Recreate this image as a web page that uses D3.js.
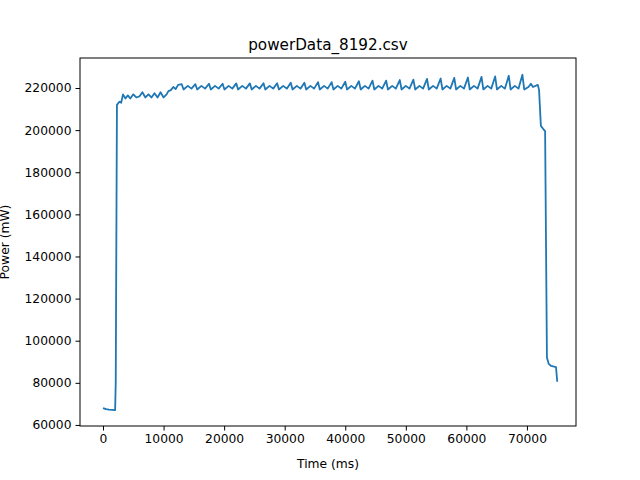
<!DOCTYPE html>
<html><head><meta charset="utf-8">
<script src="https://cdn.jsdelivr.net/npm/d3@7"></script>
<style>body{margin:0;background:#fff}text{font-family:"DejaVu Sans",sans-serif}</style>
</head><body>
<svg id="chart" width="640" height="480"></svg>
<script>
// time (ms) and power (mW)
const timeMs = [0,500,1000,1500,2000,2100,2300,2700,3000,3300,3700,4100,4500,5000,5500,6000,6500,7000,7500,8000,8500,9000,9500,10000,10500,10800,11200,11600,12000,12400,
13000,13300,14000,14600, 15250,15550,16250,16850, 17500,17800,18500,19100, 19750,20050,20750,21350,
22000,22300,23000,23600, 24250,24550,25250,25850, 26500,26800,27500,28100, 28750,29050,29750,30350,
31000,31300,32000,32600, 33250,33550,34250,34850, 35500,35800,36500,37100, 37750,38050,38750,39350,
40000,40300,41000,41600, 42250,42550,43250,43850, 44500,44800,45500,46100, 46750,47050,47750,48350,
49000,49300,50000,50600, 51250,51550,52250,52850, 53500,53800,54500,55100, 55750,56050,56750,57350,
58000,58300,59000,59600, 60250,60550,61250,61850, 62500,62800,63500,64100, 64750,65050,65750,66350,
67000,67300,68000,68600, 69250,69550,70250,70650,
71000,71800,72000,72300,72700,73000,73300,73600,74000,74800,75000];
const powerMw = [68000,67500,67300,67200,67000,80000,212000,213500,213000,217000,215000,216500,215000,217000,215500,216000,218000,215500,217000,215500,217500,215500,218000,215500,217000,218500,219000,220500,219500,221500,
221800,219300,221000,219700, 221800,219300,221000,219700, 222000,219300,221000,219700, 222000,219300,221000,219700,
222200,219300,221000,219700, 222200,219300,221000,219700, 222300,219300,221000,219700, 222300,219300,221000,219700,
222500,219300,221000,219700, 222500,219300,221000,219700, 222800,219300,221000,219700, 222800,219300,221000,219700,
223000,219300,221000,219700, 223200,219300,221000,219700, 223500,219300,221000,219700, 223500,219300,221000,219700,
223800,219300,221000,219700, 224000,219300,221000,219700, 224300,219300,221000,219700, 224500,219300,221000,219700,
224800,219300,221000,219700, 225000,219300,221000,219700, 225300,219300,221000,219700, 225500,219300,221000,219700,
225800,219300,221000,219700, 226300,219300,220500,222000,
220500,221500,219000,202000,200500,199500,92000,89000,88000,87500,80500];
const xTicks = [0,10000,20000,30000,40000,50000,60000,70000];
const yTicks = [60000,80000,100000,120000,140000,160000,180000,200000,220000];

const svg = d3.select('#chart')
const L = 80, R = 576, T = 58, B = 426

const x = d3.scaleLinear().domain([-3800, 78100]).range([L, R])
const y = d3.scaleLinear().domain([59500, 234250]).range([B, T])

const data = timeMs.map((t, i) => [t, powerMw[i]])

svg.append('path')
    .datum(data)
    .attr('fill', 'none')
    .attr('stroke', '#1f77b4')
    .attr('stroke-width', 1.8)
    .attr('stroke-linejoin', 'round')
    .attr('d', d3.line().x(d => x(d[0])).y(d => y(d[1])))

// axes
const xAxis = svg.append('g').attr('transform', `translate(0,${B})`)
    .call(d3.axisBottom(x).tickValues(xTicks).tickFormat(d3.format('d')).tickSizeOuter(0).tickSize(4.5).tickPadding(4))
const yAxis = svg.append('g').attr('transform', `translate(${L},0)`)
    .call(d3.axisLeft(y).tickValues(yTicks).tickFormat(d3.format('d')).tickSizeOuter(0).tickSize(4.5).tickPadding(4))
xAxis.select('.domain').remove()
yAxis.select('.domain').remove()
svg.selectAll('.tick text').attr('font-size', 12.3).attr('fill', '#000').style('font-family', 'DejaVu Sans')
svg.selectAll('.tick line').attr('stroke', '#000').attr('stroke-width', 1)

svg.append('rect').attr('x', L).attr('y', T).attr('width', R - L).attr('height', B - T)
    .attr('fill', 'none').attr('stroke', '#000').attr('stroke-width', 1)

svg.append('text').attr('x', (L + R) / 2).attr('y', 50).attr('text-anchor', 'middle')
    .attr('font-size', 15.2).text('powerData_8192.csv')
svg.append('text').attr('x', (L + R) / 2).attr('y', 468).attr('text-anchor', 'middle')
    .attr('font-size', 12.3).text('Time (ms)')
svg.append('text').attr('transform', `translate(9,${(T + B) / 2}) rotate(-90)`).attr('text-anchor', 'middle')
    .attr('font-size', 12.3).text('Power (mW)')
</script>
</body></html>
